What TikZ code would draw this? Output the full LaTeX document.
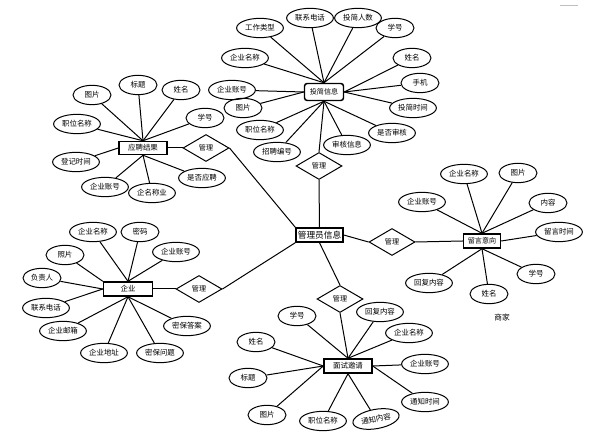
\documentclass[tikz,border=0pt]{standalone}
\usepackage{fontspec}
\newfontfamily\cjk{Noto Sans CJK SC}
\usetikzlibrary{shapes.geometric}

\tikzset{
	attr/.style={shape=ellipse, draw, line width=0.75pt, inner xsep=1.2pt, inner ysep=0pt, minimum width=28.5pt, minimum height=14.5pt, font=\cjk\fontsize{5.6pt}{6pt}\selectfont},
	entity/.style={shape=rectangle, draw, line width=1.1pt, inner sep=0pt, minimum height=10.5pt, font=\cjk\fontsize{5.6pt}{6pt}\selectfont},
	rel/.style={shape=diamond, draw, line width=0.75pt, inner sep=0pt, minimum width=34.5pt, minimum height=20.25pt, font=\cjk\fontsize{5.3pt}{6pt}\selectfont},
	wire/.style={line width=0.75pt}
}

\begin{document}
\begin{tikzpicture}[x=0.75pt, y=-0.75pt]
	\useasboundingbox (0,0) rectangle (604,442);
	% Paths, nodes and wires:
	\node[entity, rounded corners=2pt, minimum width=29.25pt, minimum height=12.75pt, font=\cjk\fontsize{5.3pt}{6pt}\selectfont] (tj) at (324,92) {投简信息};
	\node[entity, minimum width=35.25pt, font=\cjk\fontsize{6.5pt}{7pt}\selectfont] (gly) at (319.5,235) {管理员信息};
	\node[entity, minimum width=27.75pt, font=\cjk\fontsize{5.3pt}{6pt}\selectfont] (lyyx) at (482,241) {留言意向};
	\node[entity, minimum width=36pt] (msyq) at (348,366) {面试邀请};
	\node[entity, minimum width=36pt, minimum height=9.75pt] (ypjg) at (143,148) {应聘结果};
	\node[entity, minimum width=36.75pt] (qy) at (128,289) {企业};

	\node[rel] (gl1) at (319,166) {管理};
	\node[rel] (gl2) at (392,242) {管理};
	\node[rel] (gl3) at (340,299) {管理};
	\node[rel] (gl4) at (206,148) {管理};
	\node[rel] (gl5) at (199,289) {管理};

	% 投简信息
	\node[attr] (tj1) at (260,28) {工作类型};
	\node[attr] (tj2) at (310,18) {联系电话};
	\node[attr] (tj3) at (358,18) {投简人数};
	\node[attr] (tj4) at (395,28) {学号};
	\node[attr] (tj5) at (245,58) {企业名称};
	\node[attr] (tj6) at (412,58) {姓名};
	\node[attr] (tj7) at (420,83) {手机};
	\node[attr] (tj8) at (413,108) {投简时间};
	\node[attr] (tj9) at (232,90) {企业账号};
	\node[attr] (tj10) at (243,108) {图片};
	\node[attr] (tj11) at (260,130) {职位名称};
	\node[attr] (tj12) at (392,133) {是否审核};
	\node[attr] (tj13) at (347,145) {审核信息};
	\node[attr] (tj14) at (277,152) {招聘编号};

	% 应聘结果
	\node[attr] (yp1) at (92,95) {图片};
	\node[attr] (yp2) at (138,85) {标题};
	\node[attr] (yp3) at (181,90) {姓名};
	\node[attr] (yp4) at (77,124) {职位名称};
	\node[attr] (yp5) at (205,118) {学号};
	\node[attr] (yp6) at (76,162) {登记时间};
	\node[attr] (yp7) at (105,187) {企业账号};
	\node[attr] (yp8) at (152,193) {企名称业};
	\node[attr] (yp9) at (202,178) {是否应聘};

	% 企业
	\node[attr] (qy1) at (93,232) {企业名称};
	\node[attr] (qy2) at (140,232) {密码};
	\node[attr] (qy3) at (65,255) {照片};
	\node[attr] (qy4) at (176,252) {企业账号};
	\node[attr] (qy5) at (42,278) {负责人};
	\node[attr] (qy6) at (46,308) {联系电话};
	\node[attr] (qy7) at (63,331) {企业邮箱};
	\node[attr] (qy8) at (187,326) {密保答案};
	\node[attr] (qy9) at (104,353) {企业地址};
	\node[attr] (qy10) at (160,353) {密保问题};

	% 留言意向
	\node[attr] (ly1) at (464,174) {企业名称};
	\node[attr] (ly2) at (518,173) {图片};
	\node[attr] (ly3) at (422,202) {企业账号};
	\node[attr] (ly4) at (548,203) {内容};
	\node[attr] (ly5) at (559,232) {留言时间};
	\node[attr] (ly6) at (536,274) {学号};
	\node[attr] (ly7) at (429,283) {回复内容};
	\node[attr] (ly8) at (489,294) {姓名};
	\node[font=\cjk\fontsize{5.8pt}{6pt}\selectfont] (sj) at (502,318) {商家};

	% 面试邀请
	\node[attr] (ms1) at (297,316) {学号};
	\node[attr] (ms2) at (380,312) {回复内容};
	\node[attr] (ms3) at (409,333) {企业名称};
	\node[attr] (ms4) at (256,342) {姓名};
	\node[attr] (ms5) at (248,378) {标题};
	\node[attr] (ms6) at (425,364) {企业账号};
	\node[attr] (ms7) at (425,402) {通知时间};
	\node[attr] (ms8) at (267,415) {图片};
	\node[attr] (ms9) at (323,421) {职位名称};
	\node[attr, rotate=10] (ms10) at (376,419) {通知内容};

	\foreach \a/\s in {tj1/north, tj2/north, tj3/north, tj4/north, tj5/north, tj6/east, tj7/east, tj8/east, tj9/west, tj10/west, tj11/south, tj12/south, tj13/south, tj14/south}
		\draw[wire] (tj.\s) -- (\a);
	\foreach \a/\s in {yp1/north, yp2/north, yp3/north, yp4/north, yp5/north, yp6/west, yp7/south, yp8/south, yp9/south}
		\draw[wire] (ypjg.\s) -- (\a);
	\foreach \a/\s in {qy1/north, qy2/north, qy3/north west, qy4/north, qy5/west, qy6/west, qy7/south, qy8/south, qy9/south, qy10/south}
		\draw[wire] (qy.\s) -- (\a);
	\foreach \a/\s in {ly1/north, ly2/north, ly3/north, ly4/north, ly5/east, ly6/south, ly7/south, ly8/south}
		\draw[wire] (lyyx.\s) -- (\a);
	\foreach \a/\s in {ms1/north, ms2/north, ms3/north, ms4/west, ms5/west, ms6/east, ms7/east, ms8/west, ms9/south, ms10/south}
		\draw[wire] (msyq.\s) -- (\a);

	\draw[wire] (tj.south) -- (gl1.north);
	\draw[wire] (gl1.south) -- (gly.north);
	\draw[wire] (gly.east) -- (gl2.west);
	\draw[wire] (gl2.east) -- (lyyx.west);
	\draw[wire] (gly.south) -- (gl3.north);
	\draw[wire] (gl3.south) -- (msyq.north);
	\draw[wire] (ypjg.east) -- (gl4.west);
	\draw[wire] (gl4.east) -- (gly.north west);
	\draw[wire] (qy.east) -- (gl5.west);
	\draw[wire] (gl5.east) -- (gly.south west);

	% page mark
	\draw[gray!50, line width=0.75pt] (560,6) -- (578,6);
\end{tikzpicture}
\end{document}
